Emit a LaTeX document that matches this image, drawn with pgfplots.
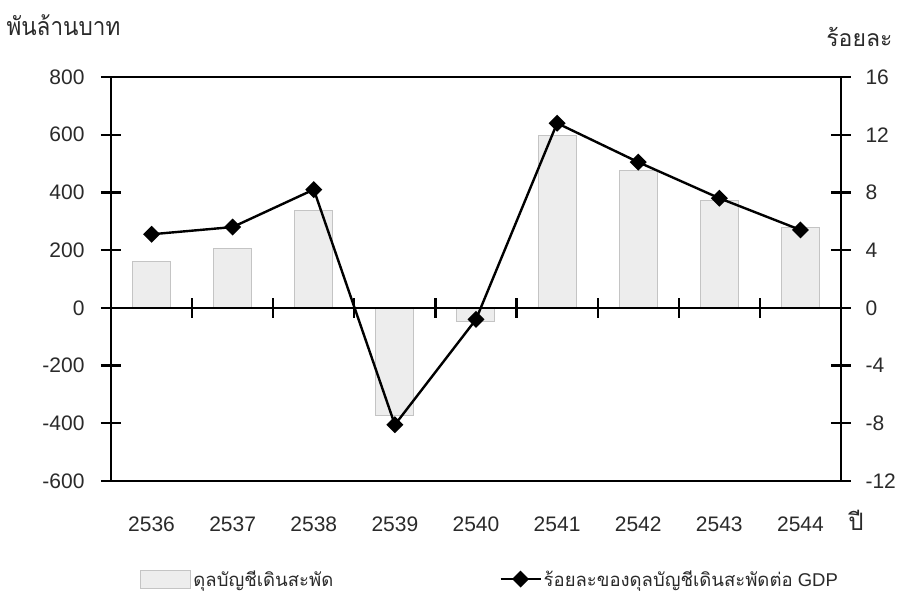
\documentclass[border=0pt]{standalone}
\usepackage{fontspec}
\setmainfont{Liberation Sans}
\newfontfamily\thai[Script=Thai]{Loma}
\newfontfamily\thainarrow[Script=Thai, FakeStretch=0.9]{Loma}
\usepackage{pgfplots}
\usepackage{pgfplotstable}
\pgfplotsset{compat=1.18}

\definecolor{barfill}{HTML}{EDEDED}
\definecolor{baredge}{HTML}{C4C4C4}
\definecolor{txt}{HTML}{2A2A2A}

% x = 0..8 for 2536..2544
\pgfplotstableread{
x  bal  pct
0  162  5.1
1  205  5.6
2  338  8.2
3  -372 -8.1
4  -46  -0.8
5  597  12.8
6  475  10.1
7  373  7.6
8  279  5.4
}\cadata

\begin{document}
\begin{tikzpicture}[font=\fontsize{21}{25}\selectfont]
\useasboundingbox (-111pt,-119pt) rectangle (791pt,481pt);
\pgfplotsset{
  base/.style={
    at={(0pt,0pt)}, anchor=south west,
    scale only axis, width=730pt, height=404pt,
    xmin=-0.5, xmax=8.5,
    axis line style={line width=2.4pt, black},
    tick style={line width=2.2pt, black},
    tick align=center, major tick length=20pt,
    ticklabel style={text=txt},
  }
}
% bars, left axis, frame
\begin{axis}[base,
  ymin=-600, ymax=800,
  ytick={-600,-400,-200,0,200,400,600,800},
  yticklabels={-600,-400,-200,0,200,400,600,800},
  ytick pos=left,
  xtick={0,...,8},
  xticklabels={2536,2537,2538,2539,2540,2541,2542,2543,2544},
  xtick pos=bottom,
  x tick style={draw=none},
  xticklabel style={anchor=base, yshift=-40pt},
  yticklabel style={anchor=east, xshift=-13pt},
]
\addplot[ybar, bar width=38pt, fill=barfill, draw=baredge, line width=1pt] table[x=x, y=bal] {\cadata};
\end{axis}
% zero line with category separators
\begin{axis}[base,
  ymin=-600, ymax=800,
  axis x line=middle, axis y line=none,
  every inner x axis line/.append style={-},
  axis line style={-},
  xtick={0.5,1.5,...,7.5},
  xticklabels={},
]
\end{axis}
% percent line, right axis
\begin{axis}[base,
  ymin=-12, ymax=16,
  axis y line*=right, axis x line=none,
  ytick={-12,-8,-4,0,4,8,12,16},
  yticklabels={-12,-8,-4,0,4,8,12,16},
  yticklabel style={anchor=west, xshift=11pt},
  legend style={draw=none, fill=none, at={(axis description cs:0.036,-0.2426)}, anchor=west,
    font=\fontsize{18.5}{22}\selectfont, text=txt,
    /tikz/every even column/.append style={column sep=164pt}},
  legend columns=2,
  legend cell align=left,
]
\addlegendimage{legend image code/.code={\draw[fill=barfill, draw=baredge, line width=1pt] (0pt,-9pt) rectangle (50pt,9pt);}}
\addlegendentry{\thai ดุลบัญชีเดินสะพัด}
\addplot[black, line width=2.4pt, mark=square*, mark size=4.8pt, mark options={rotate=45}, legend image code/.code={\draw[black, line width=2.4pt] (0pt,0pt) -- (40pt,0pt); \draw[black, mark=square*, mark size=4.8pt, mark options={rotate=45}] plot coordinates {(20pt,0pt)};}] table[x=x, y=pct] {\cadata};
\addlegendentry{{\thai ร้อยละของดุลบัญชีเดินสะพัดต่อ} GDP}
\end{axis}
\node[anchor=west, text=txt, font=\fontsize{25}{28}\selectfont] at (-108pt,456pt) {\thainarrow พันล้านบาท};
\node[anchor=east, text=txt, font=\fontsize{23}{26}\selectfont] at (785pt,444pt) {\thai ร้อยละ};
\node[anchor=base, text=txt, font=\fontsize{24}{26}\selectfont] at (745pt,-49pt) {\thai ปี};
\end{tikzpicture}
\end{document}
